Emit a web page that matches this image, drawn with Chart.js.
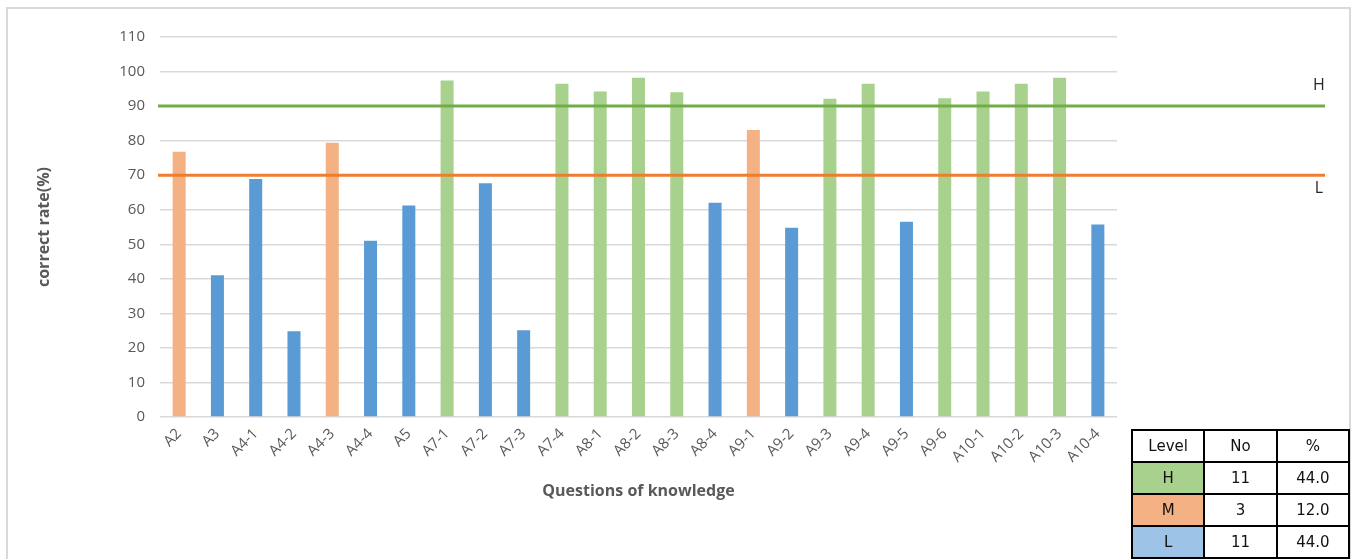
<!DOCTYPE html>
<html>
<head>
<meta charset="utf-8">
<script src="https://cdn.jsdelivr.net/npm/chart.js@4"></script>
<style>
  html, body { margin: 0; padding: 0; background: #fff; }
  #wrap { position: relative; width: 1354px; height: 559px; overflow: hidden; }
  #frame { position: absolute; left: 6px; top: 7px; width: 1345px; height: 600px; border: 2px solid #d9d9d9; box-sizing: border-box; }
  #chart { position: absolute; left: 0; top: 0; }
  #levels { position: absolute; left: 1131px; top: 429px; width: 219px; table-layout: fixed; border-collapse: collapse;
    font-family: "DejaVu Sans", sans-serif; font-size: 15px; color: #111; }
  #levels td { border: 2.5px solid #000; height: 30px; text-align: center; padding: 0; }
</style>
</head>
<body>
<div id="wrap">
  <div id="frame"></div>
  <canvas id="chart" width="1354" height="559"></canvas>
  <table id="levels"><tbody></tbody></table>
</div>
<script>
const questions = ['A2', 'A3', 'A4-1', 'A4-2', 'A4-3', 'A4-4', 'A5', 'A7-1', 'A7-2', 'A7-3', 'A7-4', 'A8-1', 'A8-2',
  'A8-3', 'A8-4', 'A9-1', 'A9-2', 'A9-3', 'A9-4', 'A9-5', 'A9-6', 'A10-1', 'A10-2', 'A10-3', 'A10-4'];
const correctRates = [76.8, 41.0, 68.9, 24.8, 79.4, 51.0, 61.2, 97.4, 67.7, 25.1, 96.5, 94.2, 98.2,
  94.0, 62.0, 83.1, 54.8, 92.1, 96.5, 56.5, 92.3, 94.2, 96.5, 98.2, 55.7];
const questionLevels = ['M', 'L', 'L', 'L', 'M', 'L', 'L', 'H', 'L', 'L', 'H', 'H', 'H',
  'H', 'L', 'M', 'L', 'H', 'H', 'L', 'H', 'H', 'H', 'H', 'L'];
const yTicks = [0, 110, 10];
const thresholdValues = [90, 70];
const thresholdLabels = ['H', 'L'];
const tableHeader = ['Level', 'No', '%'];
const tableLevels = ['H', 'M', 'L'];
const tableCounts = [11, 3, 11];
const tablePercents = ['44.0', '12.0', '44.0'];

const barColors = { H: '#a9d18e', M: '#f4b183', L: '#5b9bd5' };
const cellColors = { H: '#a9d18e', M: '#f4b183', L: '#9dc3e6' };
const lineColors = ['#70ad47', '#ed7d31'];

// summary table
const tbody = document.querySelector('#levels tbody');
const head = document.createElement('tr');
head.innerHTML = tableHeader.map((h) => `<td>${h}</td>`).join('');
tbody.appendChild(head);
tableLevels.forEach((lvl, i) => {
  const tr = document.createElement('tr');
  tr.innerHTML = `
    <td style="background:${cellColors[lvl]}">${lvl}</td>
    <td>${tableCounts[i]}</td>
    <td>${tablePercents[i]}</td>
  `;
  tbody.appendChild(tr);
});

// H / L reference lines, running past the plot area
const thresholdPlugin = {
  id: 'thresholds',
  afterDatasetsDraw(chart) {
    const { ctx, chartArea, scales } = chart;
    thresholdValues.forEach((v, i) => {
      const y = scales.y.getPixelForValue(v);
      const x0 = chartArea.left - 2;
      const x1 = chartArea.right + 208;
      ctx.save();
      ctx.strokeStyle = lineColors[i];
      ctx.lineWidth = 3;
      ctx.beginPath();
      ctx.moveTo(x0, y);
      ctx.lineTo(x1, y);
      ctx.stroke();
      ctx.fillStyle = '#262626';
      ctx.font = '16px "Open Sans"';
      ctx.textAlign = 'center';
      ctx.textBaseline = 'middle';
      ctx.fillText(thresholdLabels[i], x1 - 6, i === 0 ? y - 21 : y + 13);
      ctx.restore();
    });
  },
};

new Chart(document.getElementById('chart'), {
  type: 'bar',
  data: {
    labels: questions,
    datasets: [{
      data: correctRates,
      backgroundColor: questionLevels.map((l) => barColors[l]),
      borderWidth: 0,
      categoryPercentage: 1,
      barPercentage: 0.34,
    }],
  },
  options: {
    responsive: false,
    animation: false,
    layout: { padding: { top: 37, right: 237, left: 0, bottom: 0 } },
    plugins: { legend: { display: false }, tooltip: { enabled: false } },
    scales: {
      x: {
        grid: { display: false, drawTicks: false },
        border: { display: false },
        ticks: {
          color: '#595959',
          font: { family: 'Open Sans', size: 15 },
          minRotation: 45,
          maxRotation: 45,
          autoSkip: false,
          padding: 8,
        },
        title: {
          display: true,
          text: 'Questions of knowledge',
          color: '#595959',
          font: { family: 'Open Sans', size: 16, weight: 'bold' },
          padding: { top: 0, bottom: 58 },
        },
        afterFit: (s) => { s.height = 142; },
      },
      y: {
        min: yTicks[0],
        max: yTicks[1],
        ticks: {
          stepSize: yTicks[2],
          color: '#595959',
          font: { family: 'Open Sans', size: 15 },
          padding: 15,
        },
        grid: { color: '#d9d9d9', lineWidth: 1.5, drawTicks: false },
        border: { display: false },
        title: {
          display: true,
          text: 'correct rate(%)',
          color: '#595959',
          font: { family: 'Open Sans', size: 16, weight: 'bold' },
          padding: { top: 35, bottom: 0 },
        },
        afterFit: (s) => { s.width = 160; },
      },
    },
  },
  plugins: [thresholdPlugin],
});
</script>
</body>
</html>
